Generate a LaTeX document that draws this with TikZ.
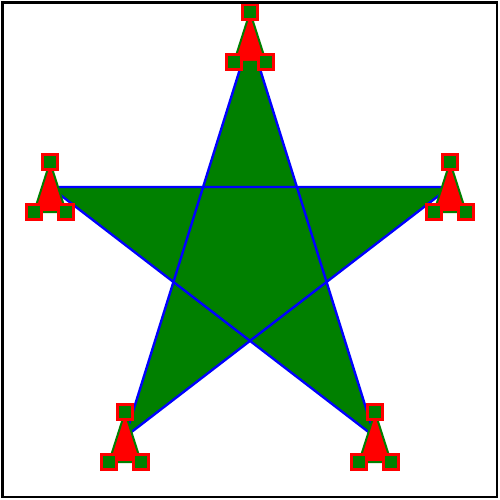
\documentclass[tikz,border=0pt]{standalone}
\usetikzlibrary{calc}
\definecolor{svggreen}{RGB}{0,128,0}
\definecolor{svgred}{RGB}{255,0,0}
\definecolor{svgblue}{RGB}{0,0,255}
\tikzset{
  starpath/.style={fill=svggreen, draw=svgblue, line width=2.4pt, line join=miter},
  tri/.style={fill=svgred, draw=svggreen, line width=2pt},
  sq/.style={fill=svggreen, draw=svgred, line width=3pt},
  frame/.style={draw=black, line width=2.4pt}
}
\newcommand{\vmarker}[1]{%
  \path[tri] ($(#1)+(0,-25)$) -- ($(#1)+(-16,25)$) -- ($(#1)+(16,25)$) -- cycle;
  \path[sq] ($(#1)+(-7.5,-32.5)$) rectangle ($(#1)+(7.5,-17.5)$);
  \path[sq] ($(#1)+(-23.5,17.5)$) rectangle ($(#1)+(-8.5,32.5)$);
  \path[sq] ($(#1)+(8.5,17.5)$) rectangle ($(#1)+(23.5,32.5)$);
}
\begin{document}
\begin{tikzpicture}[x=1pt,y=-1pt]
\useasboundingbox (0,0) rectangle (500,500);
\fill[white] (0,0) rectangle (500,500);
\coordinate (T) at (250,37);
\coordinate (BR) at (375,437);
\coordinate (L) at (50,187);
\coordinate (R) at (450,187);
\coordinate (BL) at (125,437);
\path[starpath] (T) -- (BR) -- (L) -- (R) -- (BL) -- cycle;
\vmarker{T}
\vmarker{BR}
\vmarker{L}
\vmarker{R}
\vmarker{BL}
\draw[frame] (2.5,2.5) rectangle (497,497);
\end{tikzpicture}
\end{document}
